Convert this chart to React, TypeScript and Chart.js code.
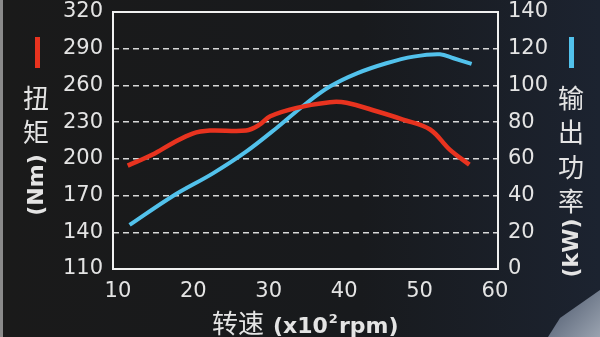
import React, { useEffect, useRef } from 'react';
import { Chart, registerables } from 'chart.js';
Chart.register(...registerables);

const torqueRpm = [11.3, 14.6, 17.3, 19.9, 22.2, 27.0, 28.8, 30.2, 33.7, 38.1, 40.3, 44.3, 47.8, 51.4, 54.0, 56.6];
const torqueNm = [194.5, 203.5, 213, 220.7, 223.1, 223.1, 228, 234.8, 241.7, 246.3, 245.8, 238.9, 232.1, 224, 207.6, 195.3];
const powerRpm = [11.55, 17.3, 22.6, 27.0, 31.0, 35.0, 38.1, 41.7, 45.6, 49.2, 52.7, 54.5, 56.9];
const powerKw = [24.0, 39.8, 52.1, 63.9, 76.7, 90.3, 99.4, 106.6, 112.1, 115.7, 117, 114.8, 111.7];
const xTicks = [10, 20, 30, 40, 50, 60];
const torqueTicks = [110, 140, 170, 200, 230, 260, 290, 320];
const powerTicks = [0, 20, 40, 60, 80, 100, 120, 140];
const torqueTitle = ['扭', '矩'];
const torqueUnit = '(Nm)';
const powerTitle = ['输', '出', '功', '率'];
const powerUnit = '(kW)';
const xTitleCn = '转速';
const xTitleUnit = ['(x10', '2', 'rpm)'];

const RED = '#e8331f';
const BLUE = '#52c2ec';
const TXT = '#e4e4e4';
const CJK = '"Noto Sans CJK SC", "Noto Sans", sans-serif';
const LAT = '"DejaVu Sans", sans-serif';

const decor = {
  id: 'decor',
  beforeDraw(chart: any) {
    const { ctx, width, height } = chart;
    ctx.save();
    const g = ctx.createLinearGradient(0, 0, width, 0);
    g.addColorStop(0, '#1a1a1a');
    g.addColorStop(0.6, '#181a1d');
    g.addColorStop(1, '#1c2330');
    ctx.fillStyle = g;
    ctx.fillRect(0, 0, width, height);
    ctx.fillStyle = '#8a8a8a';
    ctx.fillRect(0, 0, 3, height);
    ctx.beginPath();
    ctx.moveTo(600, 290);
    ctx.lineTo(560, 318);
    ctx.lineTo(548, 337);
    ctx.lineTo(600, 337);
    ctx.closePath();
    const g2 = ctx.createLinearGradient(560, 300, 600, 337);
    g2.addColorStop(0, '#5a6578');
    g2.addColorStop(1, '#9aa3b0');
    ctx.fillStyle = g2;
    ctx.fill();
    ctx.restore();
  },
  afterDraw(chart: any) {
    const { ctx, chartArea: a } = chart;
    ctx.save();
    ctx.strokeStyle = '#f0f0f0';
    ctx.lineWidth = 2;
    ctx.strokeRect(a.left, a.top, a.right - a.left, a.bottom - a.top);

    ctx.fillStyle = RED;
    ctx.fillRect(35, 37, 5, 31);
    ctx.fillStyle = BLUE;
    ctx.fillRect(569, 37, 5, 31);

    ctx.fillStyle = TXT;
    ctx.textAlign = 'center';
    ctx.textBaseline = 'middle';
    ctx.font = `26px ${CJK}`;
    torqueTitle.forEach((c, i) => ctx.fillText(c, 36, 98 + i * 34));
    powerTitle.forEach((c, i) => ctx.fillText(c, 571, 98 + i * 34.5));

    ctx.font = `bold 22px ${LAT}`;
    ctx.save();
    ctx.translate(37, 185);
    ctx.rotate(-Math.PI / 2);
    ctx.fillText(torqueUnit, 0, 0);
    ctx.restore();
    ctx.save();
    ctx.translate(572, 248);
    ctx.rotate(-Math.PI / 2);
    ctx.fillText(powerUnit, 0, 0);
    ctx.restore();

    ctx.textAlign = 'left';
    ctx.textBaseline = 'alphabetic';
    ctx.font = `26px ${CJK}`;
    let x = 212;
    const y = 333;
    ctx.fillText(xTitleCn, x, y);
    x += ctx.measureText(xTitleCn).width + 9;
    ctx.font = `bold 22px ${LAT}`;
    ctx.fillText(xTitleUnit[0], x, y);
    x += ctx.measureText(xTitleUnit[0]).width + 1;
    ctx.font = `bold 13px ${LAT}`;
    ctx.fillText(xTitleUnit[1], x, y - 10);
    x += ctx.measureText(xTitleUnit[1]).width + 1;
    ctx.font = `bold 22px ${LAT}`;
    ctx.fillText(xTitleUnit[2], x, y);
    ctx.restore();
  },
};

export default function App() {
  const ref = useRef<HTMLCanvasElement>(null);
  useEffect(() => {
    document.body.style.margin = '0';
    const chart = new Chart(ref.current!, {
      type: 'line',
      data: {
        datasets: [
          {
            label: 'torque',
            data: torqueRpm.map((r, i) => ({ x: r, y: torqueNm[i] })),
            borderColor: RED,
            borderWidth: 4.5,
            pointRadius: 0,
            tension: 0.35,
            yAxisID: 'yL',
          },
          {
            label: 'power',
            data: powerRpm.map((r, i) => ({ x: r, y: powerKw[i] })),
            borderColor: BLUE,
            borderWidth: 4,
            pointRadius: 0,
            tension: 0.35,
            yAxisID: 'yR',
          },
        ],
      },
      options: {
        responsive: false,
        animation: false,
        layout: { padding: { top: 12, left: 0, right: 0, bottom: 0 } },
        plugins: { legend: { display: false }, tooltip: { enabled: false } },
        scales: {
          x: {
            type: 'linear',
            min: 9.35,
            max: 60.4,
            afterBuildTicks: (s: any) => { s.ticks = xTicks.map((v) => ({ value: v })); },
            afterFit: (s: any) => { s.height = 68; s.paddingLeft = 0; s.paddingRight = 0; },
            grid: { display: false, drawTicks: false },
            border: { display: false },
            ticks: { color: TXT, font: { family: LAT, size: 21 }, padding: 10, maxRotation: 0, autoSkip: false },
          },
          yL: {
            type: 'linear',
            position: 'left',
            min: 110,
            max: 320,
            afterBuildTicks: (s: any) => { s.ticks = torqueTicks.map((v) => ({ value: v })); },
            afterFit: (s: any) => { s.width = 113; s.paddingTop = 0; s.paddingBottom = 0; },
            grid: {
              drawTicks: false,
              color: (c: any) => (c.tick && (c.tick.value === 110 || c.tick.value === 320) ? 'rgba(0,0,0,0)' : '#d8d8d8'),
              lineWidth: 1.5,
            },
            border: { display: false, dash: [6, 4] },
            ticks: { color: TXT, font: { family: LAT, size: 21 }, padding: 10, autoSkip: false },
          },
          yR: {
            type: 'linear',
            position: 'right',
            min: 0,
            max: 140,
            afterBuildTicks: (s: any) => { s.ticks = powerTicks.map((v) => ({ value: v })); },
            afterFit: (s: any) => { s.width = 102; s.paddingTop = 0; s.paddingBottom = 0; },
            grid: { display: false, drawTicks: false },
            border: { display: false },
            ticks: { color: TXT, font: { family: LAT, size: 21 }, padding: 10, autoSkip: false },
          },
        },
      },
      plugins: [decor],
    } as any);
    return () => chart.destroy();
  }, []);
  return (
    <div style={{ position: 'absolute', left: 0, top: 0, width: 600, height: 337 }}>
      <canvas ref={ref} width={600} height={337} />
    </div>
  );
}
